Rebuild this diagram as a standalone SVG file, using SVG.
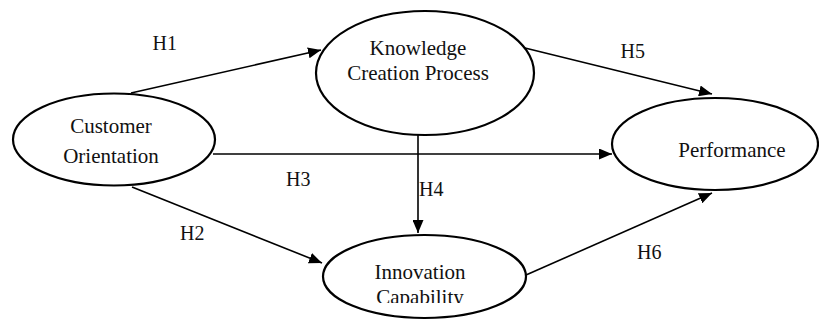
<svg xmlns="http://www.w3.org/2000/svg" width="819" height="320" viewBox="0 0 819 320">
  <style>
    .node { fill: #ffffff; stroke: #000000; stroke-width: 2.2; }
    .label { font-family: "Liberation Serif", "Times New Roman", serif; font-size: 21px; fill: #111111; text-anchor: middle; }
    .hyp { font-family: "Liberation Serif", "Times New Roman", serif; font-size: 20px; fill: #111111; }
    .edge { fill: none; stroke: #000000; stroke-width: 1.6; marker-end: url(#arrow); }
  </style>
  <defs>
    <marker id="arrow" markerUnits="userSpaceOnUse" markerWidth="14" markerHeight="11" refX="13" refY="5.5" orient="auto">
      <path d="M0,0 L13,5.5 L0,11 Z" fill="#000000"/>
    </marker>
    <clipPath id="innovation-box">
      <rect x="320" y="230" width="210" height="73"/>
    </clipPath>
  </defs>
  <rect width="819" height="320" fill="#ffffff"/>

  <!-- connectors -->
  <g id="connectors">
    <path class="edge" d="M131,93 L321,50"/>
    <path class="edge" d="M525,48 L712,94"/>
    <path class="edge" d="M213,154 L612,154"/>
    <path class="edge" d="M418,135 L418,233"/>
    <path class="edge" d="M132,187 L322,263"/>
    <path class="edge" d="M526,275 L712,193"/>
  </g>

  <!-- hypothesis labels -->
  <g id="hypotheses">
    <text class="hyp" x="152.5" y="50">H1</text>
    <text class="hyp" x="180" y="240">H2</text>
    <text class="hyp" x="286" y="186">H3</text>
    <text class="hyp" x="419" y="196">H4</text>
    <text class="hyp" x="620.5" y="58">H5</text>
    <text class="hyp" x="637" y="259">H6</text>
  </g>

  <g id="customer-orientation">
    <ellipse class="node" cx="114" cy="139.5" rx="101" ry="46"/>
    <text class="label" x="111" y="132.5">Customer</text>
    <text class="label" x="111" y="162.5">Orientation</text>
  </g>

  <g id="knowledge-creation">
    <ellipse class="node" cx="425" cy="73" rx="109" ry="62"/>
    <text class="label" x="418" y="55">Knowledge</text>
    <text class="label" x="418" y="80">Creation Process</text>
  </g>

  <g id="performance">
    <ellipse class="node" cx="715" cy="144" rx="103" ry="46"/>
    <text class="label" x="732" y="157">Performance</text>
  </g>

  <g id="innovation-capability">
    <ellipse class="node" cx="424.5" cy="276.5" rx="101.5" ry="41.5"/>
    <g clip-path="url(#innovation-box)">
      <text class="label" x="420" y="278.5">Innovation</text>
      <text class="label" x="420" y="303.5">Capability</text>
    </g>
  </g>
</svg>
